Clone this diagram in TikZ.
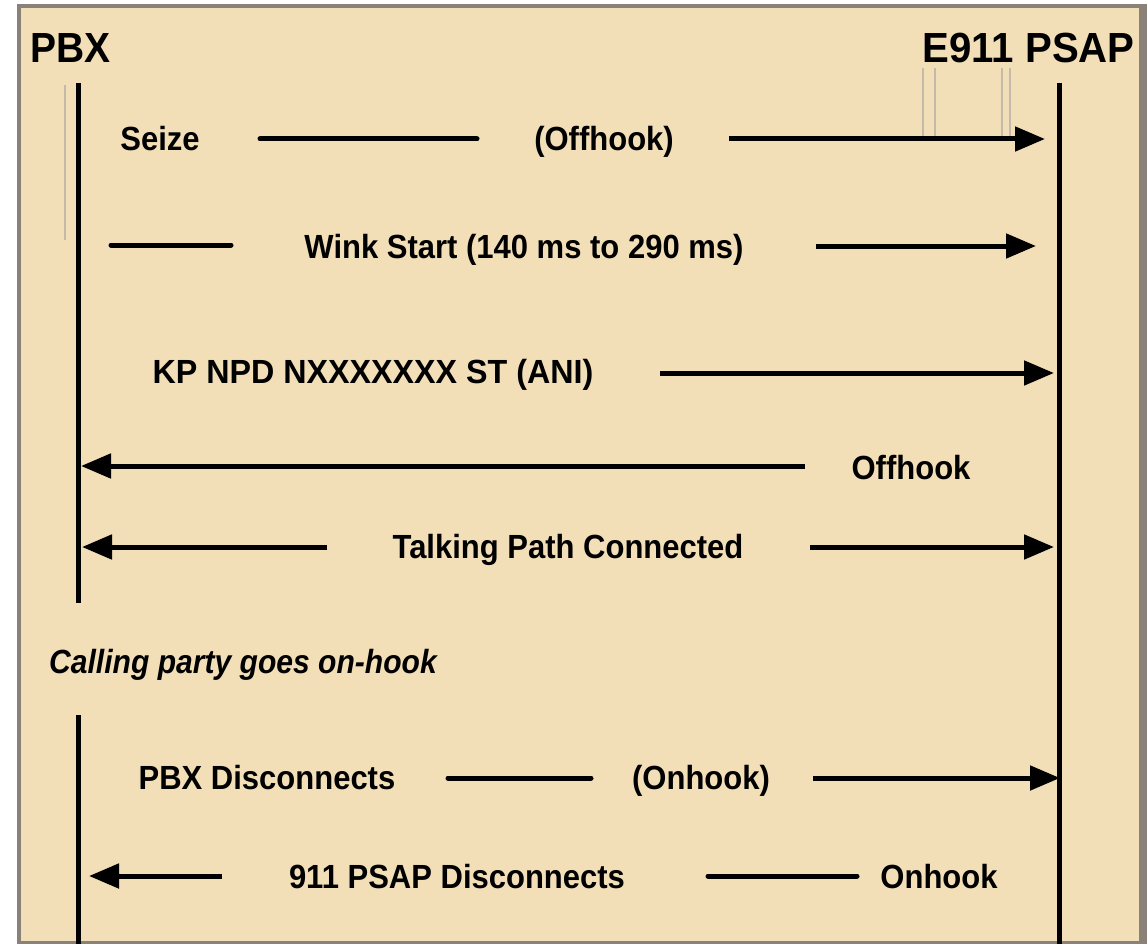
\documentclass[tikz,border=0pt]{standalone}
\usepackage{fontspec}
\setmainfont{Liberation Sans}
\usetikzlibrary{arrows.meta}
\definecolor{paper}{RGB}{242,222,183}
\definecolor{rim}{RGB}{138,130,120}
\definecolor{ghost}{RGB}{196,186,170}
% slightly tall lettering
\newcommand\vstr[1]{\scalebox{1}[1.08]{#1}}
\tikzset{
  x=1pt, y=-1pt,
  lifeline/.style={line width=5pt},
  msg/.style={line width=5pt, line cap=round},
  msgarrow/.style={line width=5pt, -{Triangle[length=30pt,width=24pt]}},
  lbl/.style={font=\fontsize{31}{31}\selectfont\bfseries, inner sep=0pt, anchor=base},
  head/.style={font=\fontsize{39}{39}\selectfont\bfseries, inner sep=0pt},
  faint/.style={ghost, line width=1.2pt},
}
\begin{document}
\begin{tikzpicture}
\useasboundingbox (0,0) rectangle (1147,944);
% paper and frame
\fill[white] (0,0) rectangle (1147,944);
\fill[rim] (17,4) rectangle (1147,944);
\fill[paper] (21,8) rectangle (1139,941);

% faint guide traces
\draw[faint] (65,85) -- (65,240);
\draw[faint] (923,68) -- (923,137);
\draw[faint] (935,68) -- (935,140);
\draw[faint] (1002,68) -- (1002,137);
\draw[faint] (1010,68) -- (1010,137);

% participants
\node[head, anchor=base west] (pbx) at (30,63) {\vstr{PBX}};
\node[head, anchor=base east] (psap) at (1135,63) {\scalebox{1.03}[1.08]{E911 PSAP}};

% lifelines
\coordinate (pbxTop) at (78,83);
\coordinate (pbxMid) at (78,603);
\coordinate (pbxLow) at (78,715);
\coordinate (pbxEnd) at (78,944);
\coordinate (psapTop) at (1059,83);
\coordinate (psapEnd) at (1059,944);
\draw[lifeline] (pbxTop) -- (pbxMid);
\draw[lifeline] (pbxLow) -- (pbxEnd);
\draw[lifeline] (psapTop) -- (psapEnd);

% Seize (Offhook)
\node[lbl] (seize) at (160,151) {\vstr{Seize}};
\node[lbl] (offhookA) at (604,151) {\vstr{(Offhook)}};
\coordinate (m1a) at (260,139);
\coordinate (m1b) at (477,139);
\coordinate (m1c) at (729,139);
\coordinate (m1d) at (1045,139);
\draw[msg] (m1a) -- (m1b);
\draw[msgarrow] (m1c) -- (m1d);

% Wink start
\node[lbl] (wink) at (524,258) {\vstr{Wink Start (140 ms to 290 ms)}};
\coordinate (m2a) at (111,245);
\coordinate (m2b) at (231,245);
\coordinate (m2c) at (816,246);
\coordinate (m2d) at (1036,246);
\draw[msg] (m2a) -- (m2b);
\draw[msgarrow] (m2c) -- (m2d);

% ANI digits
\node[lbl] (ani) at (373,383) {\scalebox{1.04}[1.08]{KP NPD NXXXXXXX ST (ANI)}};
\coordinate (m3a) at (660,373);
\coordinate (m3b) at (1054,373);
\draw[msgarrow] (m3a) -- (m3b);

% answer
\node[lbl] (offhookB) at (911,479) {\vstr{Offhook}};
\coordinate (m4a) at (805,466);
\coordinate (m4b) at (81,466);
\draw[msgarrow] (m4a) -- (m4b);

% talking path
\node[lbl] (talk) at (568,558) {\vstr{Talking Path Connected}};
\coordinate (m5a) at (327,547);
\coordinate (m5b) at (82,547);
\coordinate (m5c) at (810,547);
\coordinate (m5d) at (1054,547);
\draw[msgarrow] (m5a) -- (m5b);
\draw[msgarrow] (m5c) -- (m5d);

% caller hangs up
\node[lbl, anchor=base west, font=\fontsize{31}{31}\selectfont\bfseries\itshape] (hang) at (49,673) {\scalebox{0.97}[1.08]{Calling party goes on-hook}};

% PBX disconnects
\node[lbl] (pbxdisc) at (267,789) {\vstr{PBX Disconnects}};
\node[lbl] (onhookA) at (701,789) {\vstr{(Onhook)}};
\coordinate (m6a) at (448,778);
\coordinate (m6b) at (591,778);
\coordinate (m6c) at (813,778);
\coordinate (m6d) at (1060,778);
\draw[msg] (m6a) -- (m6b);
\draw[msgarrow] (m6c) -- (m6d);

% PSAP disconnects
\node[lbl] (psapdisc) at (457,888) {\vstr{911 PSAP Disconnects}};
\node[lbl] (onhookB) at (939,888) {\vstr{Onhook}};
\coordinate (m7a) at (222,876);
\coordinate (m7b) at (89,876);
\coordinate (m7c) at (708,876);
\coordinate (m7d) at (857,876);
\draw[msgarrow] (m7a) -- (m7b);
\draw[msg] (m7c) -- (m7d);
\end{tikzpicture}
\end{document}
